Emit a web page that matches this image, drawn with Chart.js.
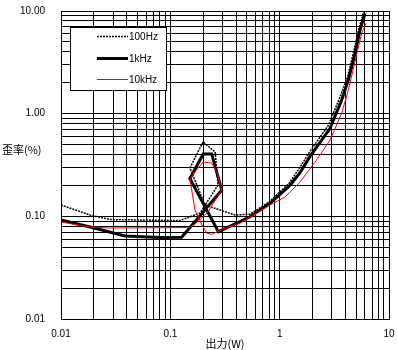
<!DOCTYPE html>
<html>
<head>
<meta charset="utf-8">
<script src="https://cdn.jsdelivr.net/npm/chart.js@4/dist/chart.umd.min.js"></script>
<style>
  body { margin: 0; background: #fff; }
  #wrap { width: 398px; height: 350px; }
</style>
</head>
<body>
<div id="wrap"><canvas id="myChart" width="398" height="350"></canvas></div>
<script>
// values (output W, distortion %)
const x100 = [0.01, 0.0184, 0.0281, 0.122, 0.187, 0.273, 0.257, 0.199, 0.151, 0.2075, 0.391, 0.536, 0.80, 1.22, 1.5, 1.85, 2.8, 3.6, 4.2, 4.79, 5.32, 5.9];
const y100 = [0.129, 0.103, 0.093, 0.091, 0.1076, 0.202, 0.424, 0.53, 0.296, 0.129, 0.103, 0.105, 0.138, 0.21, 0.29, 0.414, 0.776, 1.49, 2.33, 4.17, 6.83, 10];

const x1k = [0.01, 0.0184, 0.0385, 0.0805, 0.127, 0.295, 0.239, 0.200, 0.151, 0.275, 0.536, 0.817, 1.24, 1.53, 1.89, 2.89, 3.69, 4.25, 4.89, 5.43, 6.04];
const y1k = [0.092, 0.0787, 0.0643, 0.0622, 0.0625, 0.180, 0.405, 0.405, 0.234, 0.0708, 0.099, 0.134, 0.20, 0.265, 0.381, 0.72, 1.36, 2.13, 3.87, 6.53, 9.49];

const x10k = [0.01, 0.0184, 0.0281, 0.151, 0.168, 0.221, 0.295, 0.267, 0.239, 0.199, 0.151, 0.168, 0.195, 0.216, 0.240, 0.316, 0.433, 0.817, 1.12, 1.53, 2.18, 2.89, 3.69, 4.25, 4.89, 5.62, 6.16];
const y10k = [0.088, 0.0787, 0.0769, 0.0778, 0.084, 0.110, 0.180, 0.270, 0.330, 0.338, 0.234, 0.115, 0.0824, 0.0684, 0.0668, 0.0764, 0.0855, 0.129, 0.154, 0.215, 0.354, 0.553, 1.01, 1.70, 3.21, 6.07, 7.59];

const seriesNames = ['100Hz', '1kHz', '10kHz'];

// tick labels
const xMajor = [0.01, 0.1, 1, 10];
const xLabels = ['0.01', '0.1', '1', '10'];
const yMajor = [0.01, 0.1, 1, 10];
const yLabels = ['0.01', '0.10', '1.00', '10.00'];

const toPoints = (xs, ys) => xs.map((x, i) => ({ x: x, y: ys[i] }));

// every decade gets lines at 1..9
const logTicks = (majors) => {
    const out = [];
    for (let i = 0; i < majors.length - 1; i++) {
        for (let k = 1; k <= 9; k++) out.push(k * majors[i]);
    }
    out.push(majors[majors.length - 1]);
    return out;
};

const labelFor = (value, majors, labels) => {
    const i = majors.findIndex(m => Math.abs(m - value) / m < 1e-6);
    return i >= 0 ? labels[i] : '';
};

// fixed box sizes so the plot area lands where the reference has it
const fixBox = (scale, prop, size) => {
    scale[prop] = size;
    scale.paddingTop = 0;
    scale.paddingBottom = 0;
    scale.paddingLeft = 0;
    scale.paddingRight = 0;
};

const black = '#000000';

const extras = {
    id: 'extras',
    beforeDraw(chart) {
        const ctx = chart.ctx;
        ctx.save();
        ctx.fillStyle = '#ffffff';
        ctx.fillRect(0, 0, chart.width, chart.height);
        ctx.restore();
    },
    afterDatasetsDraw(chart) {
        const ctx = chart.ctx;
        const a = chart.chartArea;
        ctx.save();
        // frame
        ctx.strokeStyle = black;
        ctx.lineWidth = 1;
        ctx.strokeRect(Math.round(a.left) + 0.5, Math.round(a.top) + 0.5, Math.round(a.right - a.left), Math.round(a.bottom - a.top));

        // legend box
        const bx = 70, by = 27, bw = 96, bh = 63;
        ctx.fillStyle = '#ffffff';
        ctx.fillRect(bx, by, bw, bh);
        ctx.strokeRect(bx + 0.5, by + 0.5, bw, bh);
        const rows = [36, 58, 79];
        const ds = chart.data.datasets;
        ctx.font = '10px "Liberation Sans", Arial, sans-serif';
        ctx.textBaseline = 'middle';
        ctx.textAlign = 'left';
        rows.forEach((ry, i) => {
            const d = ds[i];
            ctx.beginPath();
            ctx.strokeStyle = d.borderColor;
            ctx.lineWidth = d.borderWidth;
            ctx.setLineDash(d.borderDash || []);
            ctx.moveTo(97, ry + 0.5);
            ctx.lineTo(128, ry + 0.5);
            ctx.stroke();
            ctx.setLineDash([]);
            ctx.fillStyle = black;
            ctx.fillText(seriesNames[i], 129, ry + 1);
        });

        // axis titles
        ctx.font = '11px "Noto Sans CJK JP", sans-serif';
        ctx.fillStyle = black;
        ctx.textAlign = 'center';
        ctx.fillText('出力(W)', (a.left + a.right) / 2, 344);
        ctx.textAlign = 'left';
        ctx.fillText('歪率(%)', 2, 150);
        ctx.restore();
    }
};

const ctx = document.getElementById('myChart').getContext('2d');

const myChart = new Chart(ctx, {
    type: 'scatter',
    data: {
        datasets: [{
            label: seriesNames[0],
            data: toPoints(x100, y100),
            borderColor: black,
            borderWidth: 1.5,
            borderDash: [2, 1],
            order: 1,
        }, {
            label: seriesNames[1],
            data: toPoints(x1k, y1k),
            borderColor: black,
            borderWidth: 3,
            order: 2,
        }, {
            label: seriesNames[2],
            data: toPoints(x10k, y10k),
            borderColor: '#ff0000',
            borderWidth: 1,
            order: 0,
        }]
    },
    options: {
        responsive: false,
        animation: false,
        showLine: true,
        elements: {
            point: { radius: 0, hoverRadius: 0 },
            line: { tension: 0, fill: false },
        },
        layout: {
            padding: { top: 11, right: 9, left: 0, bottom: 0 }
        },
        plugins: {
            legend: { display: false },
            tooltip: { enabled: false },
        },
        scales: {
            x: {
                type: 'logarithmic',
                min: 0.01,
                max: 10,
                afterBuildTicks: (scale) => { scale.ticks = logTicks(xMajor).map(v => ({ value: v })); },
                afterFit: (scale) => fixBox(scale, 'height', 31),
                border: { display: false },
                grid: { color: black, lineWidth: 1, drawTicks: false },
                ticks: {
                    autoSkip: false,
                    maxRotation: 0,
                    padding: 9,
                    color: black,
                    font: { family: '"Liberation Sans", Arial, sans-serif', size: 10 },
                    callback: (value) => labelFor(value, xMajor, xLabels),
                }
            },
            y: {
                type: 'logarithmic',
                min: 0.01,
                max: 10,
                afterBuildTicks: (scale) => { scale.ticks = logTicks(yMajor).map(v => ({ value: v })); },
                afterFit: (scale) => fixBox(scale, 'width', 61),
                border: { display: false },
                grid: { color: black, lineWidth: 1, drawTicks: false },
                ticks: {
                    autoSkip: false,
                    padding: 16,
                    color: black,
                    font: { family: '"Liberation Sans", Arial, sans-serif', size: 10 },
                    callback: (value) => labelFor(value, yMajor, yLabels),
                }
            }
        }
    },
    plugins: [extras]
});
</script>
</body>
</html>
